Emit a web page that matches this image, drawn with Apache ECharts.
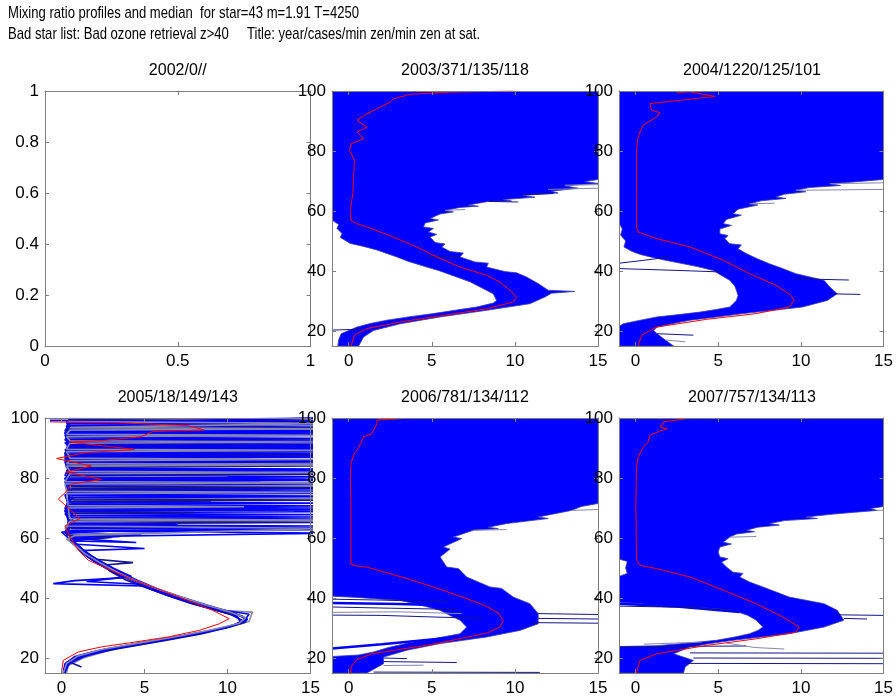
<!DOCTYPE html>
<html><head><meta charset="utf-8">
<script src="https://cdn.jsdelivr.net/npm/echarts@6/dist/echarts.min.js"></script>
<style>html,body{margin:0;padding:0;background:#fff}#c{width:896px;height:698px}</style>
</head><body><div id="c"></div>
<script>
// ---------------- text ----------------
const titleLine1 = 'Mixing ratio profiles and median  for star=43 m=1.91 T=4250';
const titleLine2 = 'Bad star list: Bad ozone retrieval z>40     Title: year/cases/min zen/min zen at sat.';
const panelTitles = ['2002/0//', '2003/371/135/118', '2004/1220/125/101', '2005/18/149/143', '2006/781/134/112', '2007/757/134/113'];

// ---------------- ticks ----------------
const emptyXTicks = [0, 0.5, 1];
const emptyYTicks = [0, 0.2, 0.4, 0.6, 0.8, 1];
const profXTicks = [0, 5, 10, 15];
const profYTicks = [20, 40, 60, 80, 100];

// ---------------- 2003 ----------------
const left2003 = [[-1,100],[-1,57],[-0.6,55.5],[-0.7,54.2],[-0.4,52.5],[-0.5,51.2],[0.1,49.2],[0.9,48.2],[1.7,47],[2.9,44.7],[3.6,43.2],[4.7,41.3],[5.4,40.2],[6.5,38],[7.3,36.4],[7.9,34.7],[8.7,32.4],[8.9,30.2],[8.7,29.3],[7.7,28],[6.5,27],[5.1,25.8],[3.6,24.7],[2.3,23.6],[1.3,22.5],[0.5,21.3],[-0.45,19.1],[-0.6,17],[-0.65,15]];
const right2003 = [[15,100],[15,70.5],[14.2,69.8],[15,69.2],[13,68.4],[13.8,67.6],[12.2,66.6],[12.6,66],[10.5,65.2],[11.2,64.6],[9.3,63.8],[9.8,63.3],[8.4,63.2],[7.2,62],[7.8,61.6],[6.7,61.2],[5.8,60.2],[6.3,59.7],[5.5,59],[4.9,57.5],[5.4,57],[4.6,56],[4.5,54.7],[5.1,54.2],[4.8,53],[5.3,52.2],[4.9,51.3],[5.2,49.5],[5.8,49],[5.6,48],[6.1,46.5],[6.9,46],[6.7,44.7],[7.6,43],[8.4,42.6],[8.3,41.3],[9.4,39.8],[10.1,39.4],[10.7,38],[11.4,35.8],[12.0,33.6],[13.6,33.2],[12.2,32.6],[11.8,31.3],[10.9,29.1],[9.6,28],[8.3,26.9],[5.5,24.7],[3.1,22.4],[1.5,20.2],[0.9,18],[0.6,15]];
const median2003 = [[9.9,100],[6.0,99.6],[3.7,98.9],[2.7,97.4],[2.5,96.3],[1.1,92.4],[0.5,90.2],[1.1,88],[0.5,86.3],[0.9,84.1],[0.15,82.4],[0.05,80.2],[0.35,76.9],[0.25,65.8],[0.1,60.2],[0.15,56.9],[0.45,55.8],[1.1,54.7],[2.7,51.3],[4.1,48],[5.3,44.7],[6.7,41.3],[8.3,38.6],[9.1,36.3],[9.7,33.6],[10.1,31.3],[9.9,29.7],[8.3,27.4],[5.7,25.2],[3.1,23],[1.1,20.8],[0.35,18.6],[0.15,15]];
const navyLines2003 = [[[-1,20.3],[0.8,20.6]],[[10.5,65.5],[12.3,65.8]],[[4.7,44.9],[6.7,44.4]],[[8.4,63.2],[10.2,63]]];
const greyLines2003 = [[[12,67.2],[15,67.6]],[[13,68.6],[15,68.8]],[[5.8,60.2],[7,60.5]]];
const blueLines2003 = [];

// ---------------- 2004 ----------------
const left2004 = [[-1,100],[-1,56],[-0.8,54],[-0.9,52],[-0.6,50],[-0.7,48],[-0.2,46.5],[0.3,45.5],[0.9,44.7],[1.8,43.6],[2.9,42.4],[3.8,41.4],[4.7,40.2],[5.2,38.5],[5.7,36.9],[6.0,35],[6.1,33.6],[6.2,31.8],[6.1,30.2],[5.7,28],[4.9,27.2],[3.9,26.3],[2.5,25.4],[1.3,24.7],[0.2,23.5],[-0.75,22.4],[-1,21.5],[-1,15]];
const right2004 = [[15,100],[15,70.5],[13,69.6],[11.75,69.1],[12.4,68.5],[10.5,67.8],[9.7,66.9],[10.3,66.4],[9.0,65.6],[8.5,64.7],[9.1,64.2],[7.6,63.4],[6.9,62.4],[7.4,62],[6.2,60.6],[5.9,59.1],[6.4,58.6],[5.5,57.2],[5.3,55.8],[5.8,55.2],[5.1,54],[5.1,52.4],[5.6,51.8],[5.4,50.8],[5.7,49.1],[6.4,48.7],[6.2,47.4],[6.7,45.8],[7.4,44],[8.1,42.4],[8.9,40.8],[9.7,39.1],[11.4,36.9],[11.75,34.7],[12.2,32.4],[11.6,30.2],[10.1,28],[8.2,26.8],[6.5,25.8],[4.8,24.6],[3.3,23.6],[2.2,22.4],[1.3,21.3],[1.1,20.2],[1.3,19.1],[1.8,17],[2.3,15]];
const median2004 = [[2.5,99.5],[3.3,99.7],[4.8,98.2],[0.87,95.8],[0.97,93.6],[1.47,92.8],[1.27,91.3],[0.46,88.6],[0.26,86.3],[0.12,83.6],[0.06,80.2],[0.06,65.8],[0.06,54.7],[0.16,53],[1.27,50.8],[3.3,48],[5.3,43.6],[6.9,39.1],[8.5,35.2],[9.4,31.9],[9.6,30.2],[9.3,28],[7.3,25.8],[4.3,23.9],[1.27,21.3],[0.36,18.6],[0.16,15]];
const navyLines2004 = [[[-1,42.6],[0.4,43.5],[2.1,44.7]],[[-1,40.8],[2.5,40.2],[5.1,39.7]],[[9.7,37.4],[12.9,37]],[[11.75,32.4],[13.6,32.2]],[[1.3,19.1],[3.5,18.6]]];
const greyLines2004 = [[[11.75,69.1],[15,69.4]],[[9.7,66.9],[15,67.2]],[[1.8,17],[3,16.4]],[[6.9,62.4],[8.4,62.6]]];
const blueLines2004 = [];

// ---------------- 2006 ----------------
const left2006 = [[-1,100],[-1,40.6],[0.5,40.2],[2,39.6],[3.1,39.2],[4.2,37.8],[5.5,35.9],[6.1,34.2],[6.7,32.6],[7.1,30.3],[6.7,28.1],[5.1,26.4],[3.6,25],[2.4,23.5],[1.5,22],[0.6,21],[-1,20.5],[-1,15]];
const right2006 = [[15,100],[15,71.5],[14,70.5],[13.4,69.2],[11.4,67],[12,66.5],[9.5,64.8],[8.4,63.6],[9,63.1],[7.5,62.6],[6.3,60.3],[6.8,59.8],[5.7,57],[6.1,56.3],[5.5,53.7],[5.9,50.3],[6.6,49.8],[7.1,47],[8.5,43.7],[9.2,43.2],[9.9,40.3],[10.9,38.1],[11.4,34.8],[11.4,31.4],[10.3,29.2],[8.3,27],[5.5,24.8],[3.5,22.6],[2.1,20.3],[2.1,18.1],[1.1,15]];
const median2006 = [[3.3,99.8],[1.7,99.3],[1.7,98.1],[1.4,94.8],[0.9,93.7],[0.63,90.3],[0.34,88.1],[0.14,84.8],[0.1,80.3],[0.14,71.4],[0.14,60.3],[0.14,51.4],[0.34,50.8],[1.1,50.3],[3.2,47],[5.2,43.5],[7,40],[8.2,37.5],[9.0,35],[9.3,32.5],[9.1,30.3],[8.3,28.3],[6.5,26.2],[4.9,24.4],[3,22.8],[1.4,21.4],[0.5,19.5],[0.14,17],[0.14,15]];
const navyLines2006 = [[[-1,39.6],[2,39.3],[6,38.7]],[[-1,37],[2.5,36.6],[6.5,36.2]],[[-1,34.3],[2,34.2],[5.5,33.6],[8,33.3]],[[11.4,34.8],[15,34.5]],[[11.4,33.2],[15,33]],[[11,31.8],[15,31.6]],[[1.5,15.3],[11.5,15.2]],[[2.1,18.8],[6.5,18.5]],[[2.1,20],[3.5,19.8]]];
const greyLines2006 = [[[-1,35.2],[3,35.4],[6.8,34.8]],[[2.1,17.5],[4.5,17.6]],[[13.4,69.2],[15,69.5]],[[7.5,62.6],[9.5,62.8]]];
const blueLines2006 = [[[-1,23.2],[2,24.6],[5,26.2],[7.3,27.4]],[[-1,38.3],[3,38],[7.3,37.3]]];

// ---------------- 2007 ----------------
const left2007 = [[-1,100],[-1,53],[-0.5,52.2],[-0.6,50],[-0.5,48.2],[-1,47.2],[-1,38.6],[1,37.8],[3.3,37],[4.8,36.4],[5.9,35.9],[6.8,34.2],[7.3,32.6],[7.7,30.3],[7.4,29.2],[6.9,28.1],[6,27],[4.9,25.9],[3.2,25],[1.3,24.1],[-1,23.8],[-1,15]];
const right2007 = [[15,100],[15,70.5],[14.2,69.8],[14.6,69.2],[12,68],[10.3,67],[11,66.5],[9,65.8],[8.1,64.8],[8.7,64.3],[7.4,63.6],[6.7,62.6],[7.2,62.1],[6.1,61.3],[5.7,60.3],[5.3,58.6],[5.8,58],[5.1,57],[5,55.3],[5.1,53.7],[5.6,53.1],[5.2,52],[5.5,50.3],[5.9,48.6],[6.5,48.2],[6.3,47],[6.9,45.3],[7.7,43.7],[8.5,42],[9.3,40.3],[11.4,38.1],[12.2,35.9],[12.6,32.6],[11.4,30.3],[9.3,28.1],[7.6,27],[5.9,25.9],[4.5,24.8],[3.3,23.7],[2.3,21.4],[3.5,19.2],[3,17],[2.9,15]];
const median2007 = [[3.1,99.8],[1.7,98.7],[1.5,97],[1.9,96.4],[1.4,95.5],[0.87,94.2],[0.77,92],[0.46,90.3],[0.16,87],[0.06,83.7],[0.02,71.4],[0.06,52.6],[0.26,50.9],[1.27,49.8],[3.3,47],[5.3,42.6],[7.3,38.1],[8.9,33.7],[9.9,30.3],[9.7,28.6],[7.3,26.4],[4.3,24.2],[1.27,21.4],[0.26,19.2],[0.06,15]];
const navyLines2007 = [[[-1,37.3],[3,36.9],[5.9,35.9]],[[-1,23.7],[3,23.9],[6.7,24]],[[12.2,34.4],[15,34.2]],[[12.6,33.2],[14,33]],[[3.3,21.7],[15,21.6]],[[3.5,20],[15,19.9]],[[3,18.2],[15,18.1]]];
const greyLines2007 = [[[0.5,24.6],[4,25.3]],[[5.5,25],[7.2,23.5],[9,23]],[[14.6,69.2],[15,69.3]],[[5.7,60.3],[7.3,60.5]]];
const blueLines2007 = [[[-1,38.1],[2.5,37.2],[6.3,35.3]]];

// ---------------- 2005 (individual profiles) ----------------
const p2005a = [[0.1,15],[0.2,18],[0.8,20.5],[2.2,22.5],[4.5,24.8],[6.8,27],[8.8,29],[10.4,31],[10.9,32.5],[10.2,34.5],[8.6,37],[7,39.8],[5.6,42.5],[4.3,45.5],[3.2,48.5],[2.2,51.5],[1.4,54.5],[0.8,57.5],[0.4,60],[4.8,61],[0.3,62],[0.4,65.8],[16,66.3],[0.6,66.8],[0.3,70.2],[16,70.7],[0.4,71.2],[0.2,74.4],[16,74.9],[0.3,75.4],[0.5,78.2],[12,78.6],[0.5,79],[0.3,82.5],[16,83],[0.3,83.4],[0.2,85.6],[16,86],[0.4,86.4],[0.4,87.8],[16,88.2],[0.4,88.6],[0.6,89.8],[16,90.2],[0.5,90.6],[0.3,92],[16,92.4],[0.3,92.8],[0.3,93.8],[16,94.2],[0.4,94.6],[0.4,96.6],[16,97],[0.4,97.4],[0.3,98.8],[16,99.2],[0.4,99.6]];
const p2005b = [[0.2,15],[0.3,18.5],[1.1,20.8],[2.6,22.8],[5,25.2],[7.4,27.5],[9.4,29.6],[10.9,31.6],[11.2,33],[10.4,35],[8.8,37.6],[7.2,40.3],[5.8,43],[4.6,45.8],[3.5,48.6],[2.5,51.6],[1.6,54.6],[1,57.6],[0.6,59.5],[3.5,60.5],[0.2,61.5],[0.3,63.6],[16,64],[0.5,64.4],[0.3,68.4],[16,68.8],[0.3,69.2],[0.4,71.6],[9,72],[0.8,72.4],[0.3,76],[16,76.4],[0.4,76.8],[0.2,80],[16,80.4],[0.2,80.8],[0.5,84.2],[16,84.6],[0.5,85],[0.3,86.6],[16,87],[0.3,87.4],[0.3,89],[16,89.4],[0.3,89.8],[0.4,91.4],[16,91.8],[0.4,92.2],[0.2,95],[16,95.4],[0.2,95.8],[0.5,98.2],[16,98.6],[0.5,99],[16,100]];
const p2005c = [[0.3,15],[0.4,17.5],[1.3,20],[2.8,22.4],[5.3,25],[7.8,27.6],[9.8,30],[11.3,32.2],[11.5,35.3],[9.8,35.8],[8.3,38],[6.6,41],[5.3,43.8],[4,46.6],[3,49.5],[2,52.5],[1.3,55.5],[0.6,58.5],[0.3,61],[6,62],[0.2,63],[0.9,65.4],[16,65.8],[0.9,66.2],[0.4,68.8],[14,69.2],[0.4,69.6],[0.6,72.8],[16,73.2],[0.6,73.6],[0.3,77],[16,77.4],[0.3,77.8],[0.5,80.4],[10,80.8],[0.5,81.2],[0.3,84.6],[16,85],[0.3,85.4],[0.4,88.6],[16,89],[0.4,89.4],[0.3,90.8],[16,91.2],[0.3,91.6],[0.3,92.4],[16,92.8],[0.3,93.2],[0.5,95.8],[16,96.2],[0.5,96.6],[0.4,99],[16,99.4],[0.4,99.8]];
const p2005d = [[0.1,16],[0.5,19],[1.8,21.5],[3.6,23.6],[5.8,25.8],[8,28],[9.9,30.2],[10.8,31.8],[10.6,33.8],[9.4,35.8],[7.8,38.2],[6.3,41],[4.9,44],[-0.5,44.8],[0.8,45.8],[3.8,46.8],[2.7,49.8],[1.8,52.8],[1.1,55.8],[5,56.5],[0.7,58],[0.4,61.5],[0.6,62.4],[16,62.8],[0.6,63.2],[0.3,67.4],[16,67.8],[0.3,68.2],[0.5,71.2],[16,71.6],[0.5,72],[0.4,75.2],[16,75.6],[0.4,76],[0.2,78.8],[16,79.2],[0.2,79.6],[0.6,82.4],[16,82.8],[0.6,83.2],[0.3,85.4],[16,85.8],[0.3,86.2],[0.2,88.4],[16,88.8],[0.2,89.2],[0.5,90.8],[16,91.2],[0.5,91.6],[0.2,94.2],[16,94.6],[0.2,95],[0.4,97.6],[16,98],[0.4,98.4],[16,100]];
const p2005e = [[1.2,17],[0.4,18.8],[1.6,21],[3.4,23.2],[6,25.6],[8.4,28],[10.2,30.4],[11.1,32],[10.9,34],[9.8,35.2],[8.1,37.8],[6.5,40.6],[5.1,43.4],[3.8,46.2],[2.9,49],[2.6,51],[4.3,51.8],[1.9,53],[1.2,56],[0.5,59],[3,60.2],[0.3,61],[0.6,64.8],[16,65.2],[0.6,65.6],[0.2,68.1],[8,68.5],[0.2,68.9],[0.4,72.2],[16,72.6],[0.4,73],[0.6,76.4],[16,76.8],[0.6,77.2],[0.3,80.8],[16,81.2],[0.3,81.6],[0.4,83.6],[16,84],[0.4,84.4],[0.2,87.2],[16,87.6],[0.2,88],[0.4,90.4],[16,90.8],[0.4,91.2],[0.5,92.6],[16,93],[0.5,93.4],[0.3,96.2],[16,96.6],[0.3,97],[0.4,98.6],[16,99],[0.4,99.4]];
const p2005f = [[0.2,15.5],[0.6,19.5],[2,21.8],[4,24],[6.4,26.3],[8.7,28.6],[10.5,31],[11.2,32.8],[10.3,35.2],[8.7,37.4],[7.1,40],[5.7,42.8],[4.5,45.6],[3.3,48.4],[2.3,51.2],[1.5,54],[0.9,57],[0.5,60.4],[16,61.6],[0.3,62.4],[0.5,64.2],[7,64.6],[0.5,65],[0.2,69],[16,69.4],[0.2,69.8],[0.5,73.6],[16,74],[0.5,74.4],[0.3,77.6],[16,78],[0.3,78.4],[0.5,81.2],[16,81.6],[0.5,82],[0.4,85],[16,85.4],[0.4,85.8],[0.3,87.6],[16,88],[0.3,88.4],[0.4,90.2],[16,90.6],[0.4,91],[0.3,92.8],[16,93.2],[0.3,93.6],[0.6,95.4],[16,95.8],[0.6,96.2],[0.4,98.4],[16,98.8],[-0.7,99.2]];
const p2005g = [[0.2,15],[0.4,18],[1.4,20.6],[3,22.9],[5.5,25.4],[8,27.9],[10,30.2],[11,32.4],[11.3,34.6],[9.2,36.4],[7.5,39],[6,41.8],[4.7,44.6],[1.5,45.5],[4.2,47.2],[3.1,50],[2.1,53],[1.3,56],[0.7,59],[4.5,58.5],[0.4,60],[0,62],[16,63.4],[0.4,63.8],[0.7,66.6],[16,67],[0.7,67.4],[0.3,69.6],[16,70],[0.3,70.4],[0.6,73.4],[16,73.8],[0.6,74.2],[0.3,79.2],[16,79.6],[0.3,80],[0.4,82],[16,82.4],[0.4,82.8],[0.2,86.6],[16,87],[0.2,87.4],[0.5,89.4],[16,89.8],[0.5,90.2],[0.2,91.8],[16,92.2],[0.2,92.6],[0.4,94.6],[16,95],[0.4,95.4],[0.3,97.4],[16,97.8],[0.3,98.2],[16,100]];
const p2005h = [[0.1,15],[0.3,18.2],[1,20.7],[2.5,22.9],[4.9,25.2],[7.2,27.4],[9.2,29.6],[10.7,31.6],[11.1,33.4],[10,35.6],[8.5,38],[6.9,40.8],[5.5,43.6],[4.2,46.4],[3.2,49],[2.3,51.8],[1.4,54.8],[0.9,57.2],[0.3,59.6],[0.8,60.8],[16,63.2],[0.3,64],[0.5,65.6],[16,66],[0.5,66.4],[0.4,70],[11,70.4],[0.4,70.8],[0.3,74.8],[16,75.2],[0.3,75.6],[0.2,78],[16,78.4],[0.2,78.8],[0.5,81.4],[16,81.8],[0.5,82.2],[0.3,84],[16,84.4],[0.3,84.8],[0.5,85.8],[16,86.2],[0.5,86.6],[0.3,88.8],[16,89.2],[0.3,89.6],[0.5,91.6],[16,92],[0.5,92.4],[0.3,93.8],[16,94.2],[0.3,94.6],[0.5,96],[16,96.4],[0.5,96.8],[16,98.2],[0.4,98.8]];
const median2005 = [[-0.7,98.7],[3,98.5],[7.6,97.5],[8.6,96],[5.5,95.5],[4.8,93.8],[2.5,92.5],[0.5,92],[4.4,89.5],[1.5,88.5],[-0.3,86.5],[1.8,84],[0.3,82],[2.4,79.5],[0.6,78],[0.2,75],[-0.2,73],[0.4,70],[1.1,66.5],[0.2,64],[0.5,60.3],[1,56],[1.6,52.6],[3,49.2],[4.4,45.9],[6,42.6],[7.6,39.2],[9.1,35.9],[10.1,33.1],[9.5,31.4],[8.3,29.2],[6.4,27],[4.4,25.3],[2.4,23.7],[1,22],[0.1,19.2],[0,15.3]];
const profiles2005 = [p2005a, p2005b, p2005c, p2005d, p2005e, p2005f, p2005g, p2005h];

// ---------------- layout & style ----------------
const FONT = 'Liberation Sans, Arial, Helvetica, sans-serif';
const AXIS_COLOR = '#7f7f7f';
const BLUE = '#0000ff', NAVY = '#14148c', GREY = '#8686ac', RED = '#ff0000';
const profileColors = [BLUE, BLUE, GREY, BLUE, NAVY, BLUE, BLUE, GREY];
const boxes = [
  {left: 45, top: 91, width: 265.5, height: 255},
  {left: 332, top: 91, width: 266, height: 255},
  {left: 619, top: 91, width: 266, height: 255},
  {left: 45, top: 418, width: 265.5, height: 255},
  {left: 332, top: 418, width: 266, height: 255},
  {left: 619, top: 418, width: 266, height: 255}
];

const grids = boxes.map(b => ({left: b.left, top: b.top, width: b.width, height: b.height, show: false, containLabel: false}));
const xAxes = [], yAxes = [];
function addAxes(gi, xr, yr, xt, yt) {
  ['bottom', 'top'].forEach(pos => xAxes.push({
    type: 'value', gridIndex: gi, position: pos, min: xr[0], max: xr[1], z: 10,
    axisLine: {show: true, onZero: false, lineStyle: {color: AXIS_COLOR, width: 1}},
    axisTick: {show: true, inside: true, length: 4, customValues: xt, lineStyle: {color: AXIS_COLOR}},
    axisLabel: {show: pos === 'bottom', customValues: xt, margin: 7, color: '#000', fontSize: 17, fontFamily: FONT, formatter: v => String(v)},
    splitLine: {show: false}
  }));
  ['left', 'right'].forEach(pos => yAxes.push({
    type: 'value', gridIndex: gi, position: pos, min: yr[0], max: yr[1], z: 10,
    axisLine: {show: true, onZero: false, lineStyle: {color: AXIS_COLOR, width: 1}},
    axisTick: {show: true, inside: true, length: 4, customValues: yt, lineStyle: {color: AXIS_COLOR}},
    axisLabel: {show: pos === 'left', customValues: yt, margin: 6, color: '#000', fontSize: 17, fontFamily: FONT, formatter: v => String(v)},
    splitLine: {show: false}
  }));
}
addAxes(0, [0, 1], [0, 1], emptyXTicks, emptyYTicks);
for (let g = 1; g < 6; g++) addAxes(g, [-1, 15], [15, 100], profXTicks, profYTicks);

const series = [];
function lineSeries(g, pts, color, width, z) {
  series.push({type: 'line', xAxisIndex: 2 * g, yAxisIndex: 2 * g, data: pts, showSymbol: false, symbol: 'none',
    lineStyle: {color: color, width: width}, silent: true, clip: true, z: z});
}
function envelope(g, leftEdge, rightEdge) {
  const poly = leftEdge.concat(rightEdge.slice().reverse());
  series.push({type: 'custom', coordinateSystem: 'cartesian2d', xAxisIndex: 2 * g, yAxisIndex: 2 * g,
    data: [[0, 50]], silent: true, clip: true, z: 2,
    renderItem: (params, api) => ({type: 'polygon', shape: {points: poly.map(p => api.coord(p))},
      style: {fill: BLUE, stroke: '#3a3ab8', lineWidth: 0.8}})
  });
}
const panels = [
  {g: 1, l: left2003, r: right2003, m: median2003, n: navyLines2003, gr: greyLines2003, b: blueLines2003},
  {g: 2, l: left2004, r: right2004, m: median2004, n: navyLines2004, gr: greyLines2004, b: blueLines2004},
  {g: 4, l: left2006, r: right2006, m: median2006, n: navyLines2006, gr: greyLines2006, b: blueLines2006},
  {g: 5, l: left2007, r: right2007, m: median2007, n: navyLines2007, gr: greyLines2007, b: blueLines2007}
];
panels.forEach(p => {
  envelope(p.g, p.l, p.r);
  p.b.forEach(pts => lineSeries(p.g, pts, BLUE, 2.5, 3));
  p.n.forEach(pts => lineSeries(p.g, pts, NAVY, 1, 3));
  p.gr.forEach(pts => lineSeries(p.g, pts, GREY, 1, 3));
  lineSeries(p.g, p.m, RED, 1, 5);
});
profiles2005.forEach((pts, i) => lineSeries(3, pts, profileColors[i], 1.6, 3));
lineSeries(3, median2005, RED, 1, 5);

const graphics = [
  {type: 'text', x: 8, y: 13.5, scaleX: 0.77, style: {text: titleLine1, fontSize: 17, fontFamily: FONT, fill: '#000', align: 'left', verticalAlign: 'middle', textAlign: 'left', textVerticalAlign: 'middle'}},
  {type: 'text', x: 8, y: 34.5, scaleX: 0.77, style: {text: titleLine2, fontSize: 17, fontFamily: FONT, fill: '#000', align: 'left', verticalAlign: 'middle', textAlign: 'left', textVerticalAlign: 'middle'}}
];
boxes.forEach((b, i) => graphics.push({type: 'text', x: b.left + b.width / 2, y: i < 3 ? 71 : 398,
  style: {text: panelTitles[i], fontSize: 16, fontFamily: FONT, fill: '#000', align: 'center', verticalAlign: 'middle', textAlign: 'center', textVerticalAlign: 'middle'}}));

const chart = echarts.init(document.getElementById('c'), null, {renderer: 'canvas', width: 896, height: 698});
chart.setOption({
  backgroundColor: '#ffffff',
  animation: false,
  grid: grids,
  xAxis: xAxes,
  yAxis: yAxes,
  series: series,
  graphic: graphics
});
</script></body></html>
